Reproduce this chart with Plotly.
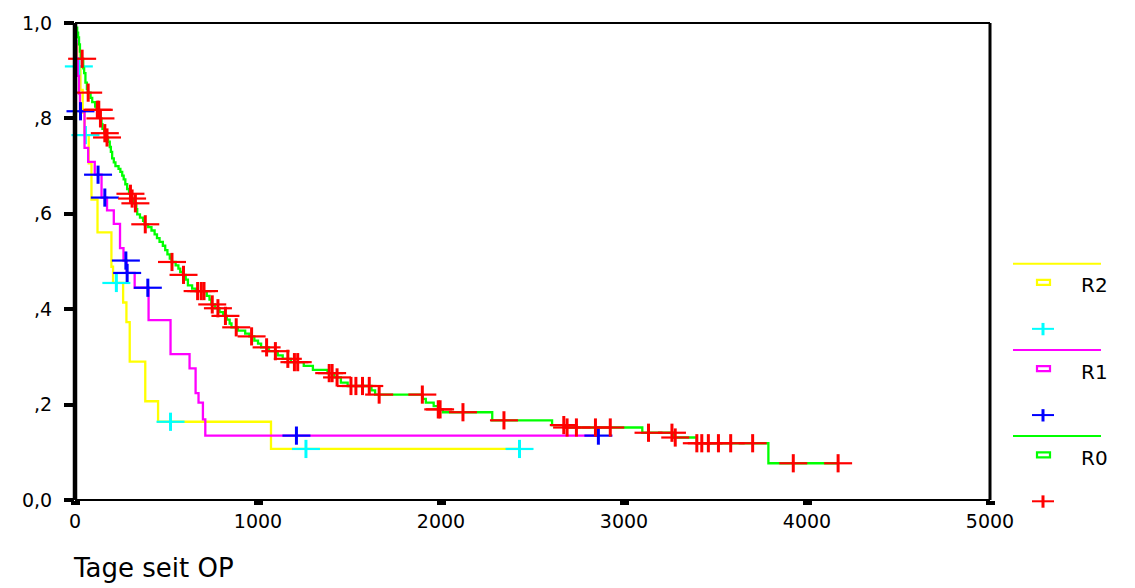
import plotly.graph_objects as go

# ---------------- survival data (Kaplan-Meier steps) ----------------
# R2: event times (days) and survival after each step, censored times
r2_t = [0, 4, 12, 30, 42, 52, 75, 90, 123, 199, 208, 263, 281, 299, 384, 454, 1071]
r2_s = [1.0, 0.955, 0.909, 0.860, 0.812, 0.765, 0.706, 0.630, 0.561, 0.489, 0.455,
        0.414, 0.373, 0.290, 0.207, 0.164, 0.107]
r2_cens = [21, 57, 226, 522, 1262, 2429]

# R1
r1_t = [0, 3, 8, 15, 22, 27, 52, 72, 108, 145, 175, 212, 246, 265, 282, 326, 402,
        522, 626, 659, 675, 699, 712]
r1_s = [1.0, 0.963, 0.926, 0.889, 0.852, 0.815, 0.738, 0.709, 0.682, 0.634, 0.607,
        0.579, 0.528, 0.502, 0.476, 0.445, 0.377, 0.306, 0.276, 0.224, 0.204, 0.169, 0.135]
r1_cens = [30, 126, 163, 278, 285, 398, 1210, 2860]

# R0
r0_t = [0, 5, 12, 17, 22, 27, 31, 45, 50, 57, 65, 70, 85, 94, 110, 118, 132, 137, 145,
        150, 160, 172, 181, 190, 196, 203, 212, 221, 238, 248, 258, 266, 275, 285, 295,
        298, 308, 322, 335, 340, 355, 372, 380, 400, 418, 435, 448, 462, 480, 493, 505,
        518, 528, 550, 565, 575, 590, 605, 617, 640, 660, 720, 735, 745, 765, 790, 810,
        830, 845, 855, 890, 930, 953, 980, 1000, 1017, 1060, 1108, 1135, 1180, 1250,
        1300, 1380, 1417, 1453, 1490, 1620, 1640, 1900, 1917, 1960, 1985, 2010, 2280,
        2607, 2680, 3100, 3270, 3398, 3789]
r0_s = [1.0, 0.99, 0.98, 0.97, 0.955, 0.94, 0.925, 0.905, 0.895, 0.875, 0.862, 0.854,
        0.843, 0.834, 0.825, 0.818, 0.81, 0.80, 0.788, 0.778, 0.769, 0.760, 0.751, 0.740,
        0.73, 0.716, 0.708, 0.700, 0.694, 0.688, 0.680, 0.672, 0.662, 0.652, 0.645,
        0.642, 0.632, 0.622, 0.610, 0.599, 0.592, 0.585, 0.578, 0.572, 0.565, 0.557,
        0.549, 0.541, 0.533, 0.524, 0.515, 0.506, 0.499, 0.492, 0.485, 0.478, 0.472,
        0.462, 0.450, 0.443, 0.438, 0.428, 0.420, 0.41, 0.402, 0.394, 0.386, 0.378,
        0.370, 0.362, 0.355, 0.349, 0.343, 0.334, 0.328, 0.320, 0.312, 0.303, 0.296,
        0.289, 0.281, 0.273, 0.266, 0.257, 0.246, 0.239, 0.230, 0.221, 0.212, 0.204,
        0.197, 0.190, 0.184, 0.167, 0.157, 0.152, 0.141, 0.131, 0.119, 0.077]
r0_cens = [39, 72, 122, 130, 139, 163, 175, 303, 312, 330, 384, 530, 593, 670, 690, 705,
           750, 781, 822, 881, 965, 1047, 1095, 1163, 1199, 1217, 1389, 1405, 1432, 1508,
           1535, 1571, 1608, 1662, 1898, 1985, 1995, 2120, 2344, 2671, 2689, 2740, 2844,
           2925, 3134, 3262, 3280, 3398, 3425, 3461, 3516, 3583, 3703, 3925, 4170]

groups = ["R2", "R1", "R0"]
line_colors = ["#FFFF00", "#FF00FF", "#00FF00"]
cens_colors = ["#00FFFF", "#0000FF", "#FF0000"]

y_ticks = [0.0, 0.2, 0.4, 0.6, 0.8, 1.0]
y_tick_text = ["0,0", ",2", ",4", ",6", ",8", "1,0"]
x_ticks = [0, 1000, 2000, 3000, 4000, 5000]

FONT = "DejaVu Sans"


def surv_at(times, surv, t):
    """Survival value of a step function at time t."""
    v = surv[0]
    for ti, si in zip(times, surv):
        if ti <= t:
            v = si
        else:
            break
    return v


fig = go.Figure()

curves = [(r2_t, r2_s, r2_cens), (r1_t, r1_s, r1_cens), (r0_t, r0_s, r0_cens)]
for (times, surv, cens), lc, cc in zip(curves, line_colors, cens_colors):
    end = max(cens[-1], times[-1])
    fig.add_trace(go.Scatter(
        x=times + [end], y=surv + [surv[-1]], mode="lines",
        line=dict(color=lc, width=2.3, shape="hv"), hoverinfo="skip",
        showlegend=False))
    cy = [surv_at(times, surv, c) for c in cens]
    # censoring marks: a wide horizontal bar plus a shorter vertical bar
    fig.add_trace(go.Scatter(
        x=cens, y=cy, mode="markers", cliponaxis=False, showlegend=False,
        marker=dict(symbol="line-ew", size=20, line=dict(color=cc, width=2.2))))
    fig.add_trace(go.Scatter(
        x=cens, y=cy, mode="markers", cliponaxis=False, showlegend=False,
        marker=dict(symbol="line-ns", size=13, line=dict(color=cc, width=3))))

# ---------------- frame and legend (pixel helpers) ----------------
L, R, T, B = 75, 145, 17, 88
W, H = 1135, 588
PW, PH = W - L - R, H - T - B


def px(x):
    return (x - L) / PW


def py(y):
    return (H - B - y) / PH


shapes = [
    dict(type="line", xref="paper", yref="paper", x0=0, x1=0, y0=0, y1=1,
         line=dict(color="black", width=4.5)),
    dict(type="line", xref="paper", yref="paper", x0=0, x1=1, y0=0, y1=0,
         line=dict(color="black", width=2)),
    dict(type="line", xref="paper", yref="paper", x0=0, x1=1, y0=1, y1=1,
         line=dict(color="black", width=2)),
    dict(type="line", xref="paper", yref="paper", x0=1, x1=1, y0=0, y1=1,
         line=dict(color="black", width=3)),
]
annotations = []

legend_top = [260.7, 348.0, 435.3]
for name, lc, cc, y0 in zip(groups, line_colors, cens_colors, legend_top):
    shapes.append(dict(type="line", xref="paper", yref="paper",
                       x0=px(1013), x1=px(1101), y0=py(y0), y1=py(y0),
                       line=dict(color=lc, width=2)))
    shapes.append(dict(type="rect", xref="paper", yref="paper",
                       x0=px(1037), x1=px(1050), y0=py(y0 + 16.5), y1=py(y0 + 21.5),
                       line=dict(color=lc, width=2.2)))
    shapes.append(dict(type="line", xref="paper", yref="paper",
                       x0=px(1032), x1=px(1054), y0=py(y0 + 66), y1=py(y0 + 66),
                       line=dict(color=cc, width=2)))
    shapes.append(dict(type="line", xref="paper", yref="paper",
                       x0=px(1043), x1=px(1043), y0=py(y0 + 60), y1=py(y0 + 72.5),
                       line=dict(color=cc, width=3)))
    annotations.append(dict(text=name, xref="paper", yref="paper",
                            x=px(1079), y=py(y0 + 22), xanchor="left", yanchor="middle",
                            showarrow=False,
                            font=dict(family=FONT, size=20, color="black")))

annotations.append(dict(text="Tage seit OP", xref="paper", yref="paper",
                        x=px(71), y=py(569), xanchor="left", yanchor="middle",
                        showarrow=False, font=dict(family=FONT, size=26, color="black")))

fig.update_layout(
    width=W, height=H,
    margin=dict(l=L, r=R, t=T, b=B, pad=0),
    paper_bgcolor="white", plot_bgcolor="white",
    shapes=shapes, annotations=annotations,
    showlegend=False,
    font=dict(family=FONT, color="black"),
    xaxis=dict(range=[0, 5000], tickvals=x_ticks, ticktext=[str(v) for v in x_ticks],
               showgrid=False, zeroline=False, showline=False,
               ticks="outside", ticklen=4, tickwidth=9, tickcolor="black",
               ticklabelstandoff=0,
               tickfont=dict(family=FONT, size=19, color="black")),
    yaxis=dict(range=[0, 1], tickvals=y_ticks, ticktext=y_tick_text,
               showgrid=False, zeroline=False, showline=False,
               ticks="outside", ticklen=10, tickwidth=4, tickcolor="black",
               ticklabelstandoff=8,
               tickfont=dict(family=FONT, size=19, color="black")),
)

fig.write_html("out.html")
